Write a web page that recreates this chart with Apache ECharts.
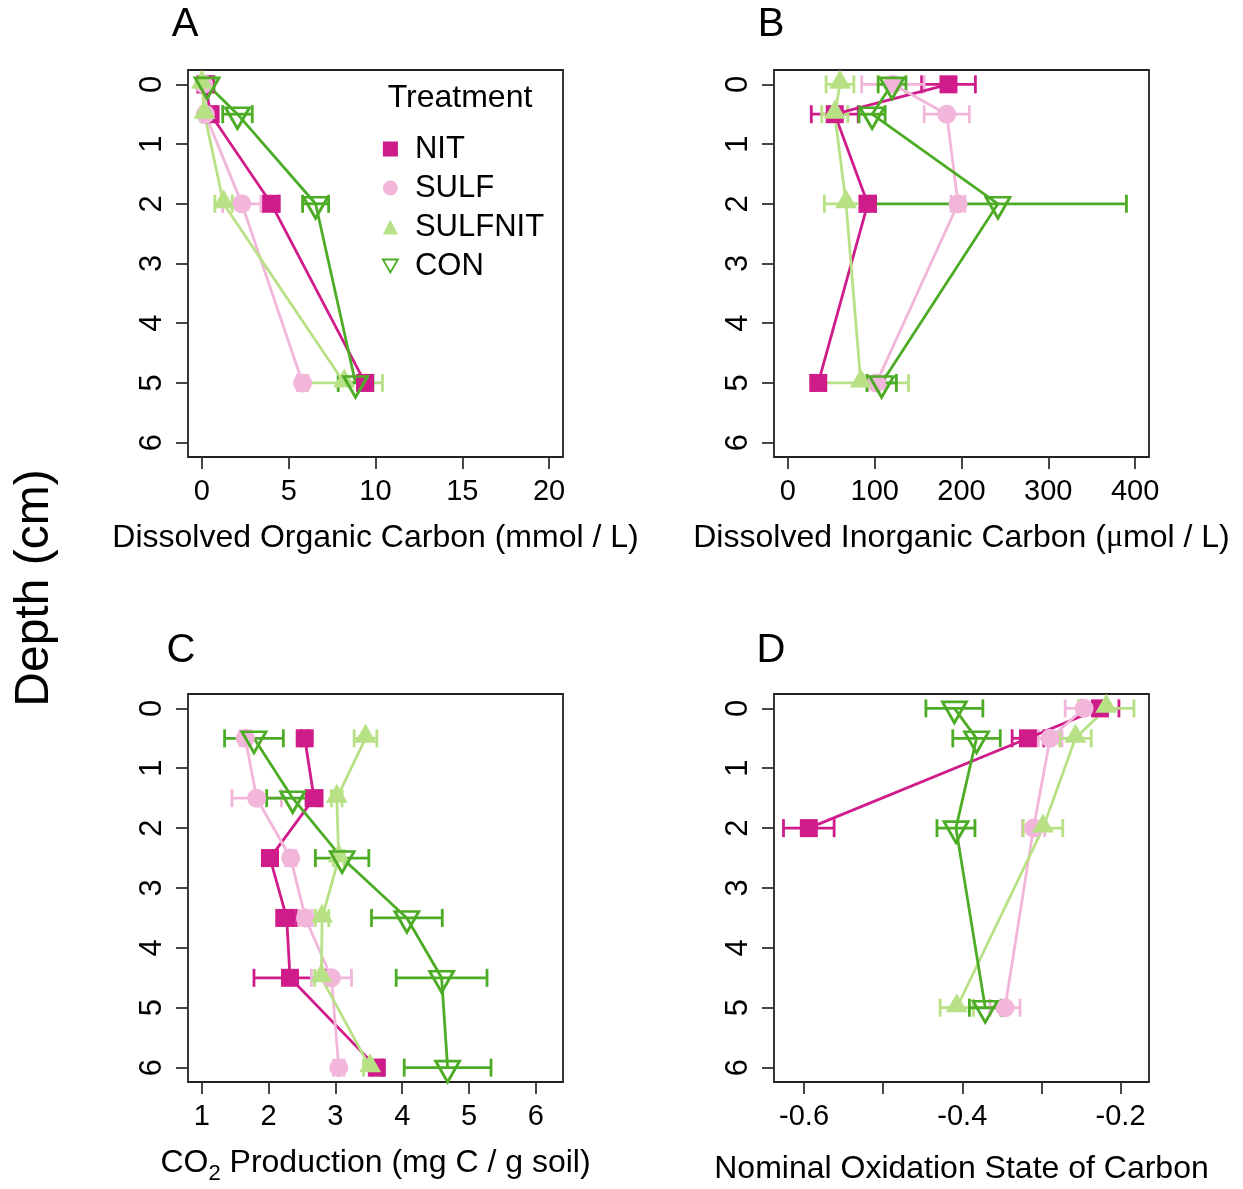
<!DOCTYPE html>
<html><head><meta charset="utf-8">
<script src="https://cdn.jsdelivr.net/npm/echarts@6/dist/echarts.min.js"></script>
<style>html,body{margin:0;padding:0;background:#fff}#c{width:1243px;height:1189px}</style>
</head><body><div id="c"></div>
<script>
const FONT = 'Liberation Sans, Arial, sans-serif';
const treatments = ['NIT', 'SULF', 'SULFNIT', 'CON'];
const colors = ['#D01C8B', '#F1B6DA', '#B8E186', '#4DAC26'];

const depthsAB = [0, 0.5, 2, 5];
const depthsC = [0.5, 1.5, 2.5, 3.5, 4.5, 6];
const depthTicks = [0, 1, 2, 3, 4, 5, 6];
const docTicks = [0, 5, 10, 15, 20];
const dicTicks = [0, 100, 200, 300, 400];
const co2Ticks = [1, 2, 3, 4, 5, 6];
const noscTicks = [-0.6, -0.5, -0.4, -0.3, -0.2];
const noscLabels = [-0.6, -0.4, -0.2];

// A: Dissolved Organic Carbon (mmol / L)
const docNIT = [0.2, 0.5, 4.0, 9.4];
const docNITse = [0.3, 0.3, 0.45, 0.4];
const docSULF = [0.1, 0.2, 2.3, 5.8];
const docSULFse = [0.2, 0.2, 1.1, 0.3];
const docSULFNIT = [0.0, 0.15, 1.25, 8.2];
const docSULFNITse = [0.2, 0.2, 0.5, 2.2];
const docCON = [0.3, 2.05, 6.55, 8.85];
const docCONse = [0.4, 0.85, 0.75, 1.0];

// B: Dissolved Inorganic Carbon (umol / L)
const dicNIT = [185, 54, 92, 35];
const dicNITse = [31, 27, 9, 8];
const dicSULF = [121, 183, 196, 102];
const dicSULFse = [36, 26, 8, 10];
const dicSULFNIT = [60, 54, 67, 84];
const dicSULFNITse = [16, 15, 25, 55];
const dicCON = [120, 97, 242, 108];
const dicCONse = [16, 15, 148, 17];

// C: CO2 production (mg C / g soil)
const co2NIT = [2.54, 2.68, 2.02, 2.27, 2.32, 3.62];
const co2NITse = [0.05, 0.12, 0.05, 0.15, 0.54, 0.08];
const co2SULF = [1.65, 1.82, 2.33, 2.55, 2.94, 3.05];
const co2SULFse = [0.08, 0.37, 0.08, 0.1, 0.3, 0.08];
const co2SULFNIT = [3.45, 3.02, 3.05, 2.8, 2.79, 3.52];
const co2SULFNITse = [0.17, 0.08, 0.08, 0.1, 0.1, 0.1];
const co2CON = [1.78, 2.36, 3.1, 4.07, 4.59, 4.68];
const co2CONse = [0.44, 0.39, 0.4, 0.53, 0.68, 0.65];

// D: Nominal oxidation state of carbon
const noscNIT = [-0.226, -0.317, -0.594, null];
const noscNITse = [0.024, 0.02, 0.032, null];
const noscSULF = [-0.246, -0.289, -0.31, -0.346];
const noscSULFse = [0.024, 0.015, 0.014, 0.019];
const noscSULFNIT = [-0.218, -0.257, -0.298, -0.407];
const noscSULFNITse = [0.035, 0.02, 0.025, 0.021];
const noscCON = [-0.41, -0.382, -0.408, -0.371];
const noscCONse = [0.036, 0.03, 0.024, 0.02];

const panels = [
  {depths: depthsAB, means: [docNIT, docSULF, docSULFNIT, docCON], ses: [docNITse, docSULFse, docSULFNITse, docCONse]},
  {depths: depthsAB, means: [dicNIT, dicSULF, dicSULFNIT, dicCON], ses: [dicNITse, dicSULFse, dicSULFNITse, dicCONse]},
  {depths: depthsC, means: [co2NIT, co2SULF, co2SULFNIT, co2CON], ses: [co2NITse, co2SULFse, co2SULFNITse, co2CONse]},
  {depths: depthsAB, means: [noscNIT, noscSULF, noscSULFNIT, noscCON], ses: [noscNITse, noscSULFse, noscSULFNITse, noscCONse]}
];

const grids = [
  {left: 188, top: 70, width: 375, height: 387},
  {left: 774, top: 70, width: 375, height: 387},
  {left: 188, top: 694, width: 375, height: 388},
  {left: 774, top: 694, width: 375, height: 388}
].map(g => Object.assign(g, {show: true, borderColor: '#222', borderWidth: 1.8, backgroundColor: 'transparent'}));

function xAxisCfg(gi, min, max, ticks, labels, name, nameGap, rich) {
  const ax = {
    type: 'value', gridIndex: gi, min: min, max: max, position: 'bottom',
    axisLine: {show: false, onZero: false}, splitLine: {show: false},
    axisTick: {show: true, length: 12, customValues: ticks, lineStyle: {color: '#333', width: 1.8}},
    axisLabel: {customValues: labels, fontSize: 29, color: '#000', fontFamily: FONT, margin: 20, formatter: v => String(v)},
    name: name, nameLocation: 'middle', nameGap: nameGap,
    nameTextStyle: {fontSize: 32, color: '#000', fontFamily: FONT}
  };
  if (rich) ax.nameTextStyle.rich = rich;
  return ax;
}
function yAxisCfg(gi) {
  return {
    type: 'value', gridIndex: gi, inverse: true, min: -0.24, max: 6.24, position: 'left',
    axisLine: {show: false, onZero: false}, splitLine: {show: false},
    axisTick: {show: true, length: 12, customValues: depthTicks, lineStyle: {color: '#333', width: 1.8}},
    axisLabel: {customValues: depthTicks, rotate: 90, fontSize: 31, color: '#000', fontFamily: FONT, margin: 20}
  };
}

const xAxes = [
  xAxisCfg(0, -0.8, 20.8, docTicks, docTicks, 'Dissolved Organic Carbon (mmol / L)', 65),
  xAxisCfg(1, -16, 416, dicTicks, dicTicks, '{n|Dissolved Inorganic Carbon (}{m|\u03bc}{n|mol / L)}', 65,
    {n: {fontSize: 32, color: '#000', fontFamily: FONT}, m: {fontSize: 32, color: '#000', fontFamily: 'Liberation Serif, serif'}}),
  xAxisCfg(2, 0.792, 6.408, co2Ticks, co2Ticks, '{n|CO}{s|2}{n| Production (mg C / g soil)}', 65,
    {n: {fontSize: 32, color: '#000', fontFamily: FONT, verticalAlign: 'top'}, s: {fontSize: 22, color: '#000', fontFamily: FONT, verticalAlign: 'top', padding: [16, 0, 0, 0]}}),
  xAxisCfg(3, -0.638, -0.164, noscTicks, noscLabels, 'Nominal Oxidation State of Carbon', 71)
];
const yAxes = [0, 1, 2, 3].map(yAxisCfg);

const symbols = [
  {symbol: 'rect', symbolSize: 18, symbolOffset: [0, 0]},
  {symbol: 'circle', symbolSize: 19, symbolOffset: [0, 0]},
  {symbol: 'triangle', symbolSize: [22, 19], symbolOffset: [0, -5]},
  {symbol: 'path://M0,0L24,0L12,21Z', symbolSize: [24, 21], symbolOffset: [0, 4]}
];

function errRenderer(color) {
  return function (params, api) {
    const x = api.value(0), y = api.value(1), e = api.value(2);
    const p1 = api.coord([x - e, y]), p2 = api.coord([x + e, y]);
    const h = 9;
    const st = {stroke: color, lineWidth: 2.8, fill: null};
    return {type: 'group', children: [
      {type: 'line', shape: {x1: p1[0], y1: p1[1], x2: p2[0], y2: p2[1]}, style: st},
      {type: 'line', shape: {x1: p1[0], y1: p1[1] - h, x2: p1[0], y2: p1[1] + h}, style: st},
      {type: 'line', shape: {x1: p2[0], y1: p2[1] - h, x2: p2[0], y2: p2[1] + h}, style: st}
    ]};
  };
}

const series = [];
panels.forEach((p, pi) => {
  treatments.forEach((t, ti) => {
    const pts = [], errs = [];
    p.depths.forEach((d, i) => {
      const m = p.means[ti][i], s = p.ses[ti][i];
      if (m === null || m === undefined) return;
      pts.push([m, d]);
      errs.push([m, d, s]);
    });
    series.push({
      name: t + '_err' + pi, type: 'custom', xAxisIndex: pi, yAxisIndex: pi,
      renderItem: errRenderer(colors[ti]), data: errs, clip: false, silent: true,
      encode: {x: 0, y: 1}
    });
    const hollow = ti === 3;
    series.push(Object.assign({
      name: t, type: 'line', xAxisIndex: pi, yAxisIndex: pi, data: pts,
      showAllSymbol: true, clip: false, silent: true,
      lineStyle: {color: colors[ti], width: 2.8},
      itemStyle: hollow ? {color: 'rgba(0,0,0,0)', borderColor: colors[ti], borderWidth: 2.8} : {color: colors[ti], borderWidth: 0},
      emphasis: {disabled: true}
    }, symbols[ti]));
  });
});

const legendIcons = ['rect', 'circle', 'triangle', 'path://M0,0L20,0L10,17.3Z'];

const option = {
  animation: false,
  backgroundColor: '#fff',
  grid: grids,
  xAxis: xAxes,
  yAxis: yAxes,
  series: series,
  legend: {
    orient: 'vertical', left: 377, top: 128, itemWidth: 15, itemHeight: 15, itemGap: 7,
    selectedMode: false,
    textStyle: {fontSize: 31, lineHeight: 32, color: '#000', fontFamily: FONT, padding: [0, 0, 0, 12]},
    data: treatments.map((t, i) => ({
      name: t, icon: legendIcons[i],
      itemStyle: i === 3 ? {color: 'rgba(0,0,0,0)', borderColor: colors[i], borderWidth: 1.8} : {color: colors[i], borderWidth: 0}
    }))
  },
  graphic: [
    {type: 'text', x: 185, y: 25, style: {text: 'A', fontSize: 40, fontFamily: FONT, fill: '#000', align: 'center', verticalAlign: 'middle'}},
    {type: 'text', x: 771, y: 25, style: {text: 'B', fontSize: 40, fontFamily: FONT, fill: '#000', align: 'center', verticalAlign: 'middle'}},
    {type: 'text', x: 181, y: 651, style: {text: 'C', fontSize: 40, fontFamily: FONT, fill: '#000', align: 'center', verticalAlign: 'middle'}},
    {type: 'text', x: 771, y: 651, style: {text: 'D', fontSize: 40, fontFamily: FONT, fill: '#000', align: 'center', verticalAlign: 'middle'}},
    {type: 'text', x: 460, y: 98, style: {text: 'Treatment', fontSize: 32, fontFamily: FONT, fill: '#000', align: 'center', verticalAlign: 'middle'}},
    {type: 'text', x: 35, y: 588, rotation: Math.PI / 2, style: {text: 'Depth (cm)', fontSize: 48, fontFamily: FONT, fill: '#000', align: 'center', verticalAlign: 'middle'}}
  ]
};

const chart = echarts.init(document.getElementById('c'), null, {renderer: 'canvas'});
chart.setOption(option);
</script></body></html>
